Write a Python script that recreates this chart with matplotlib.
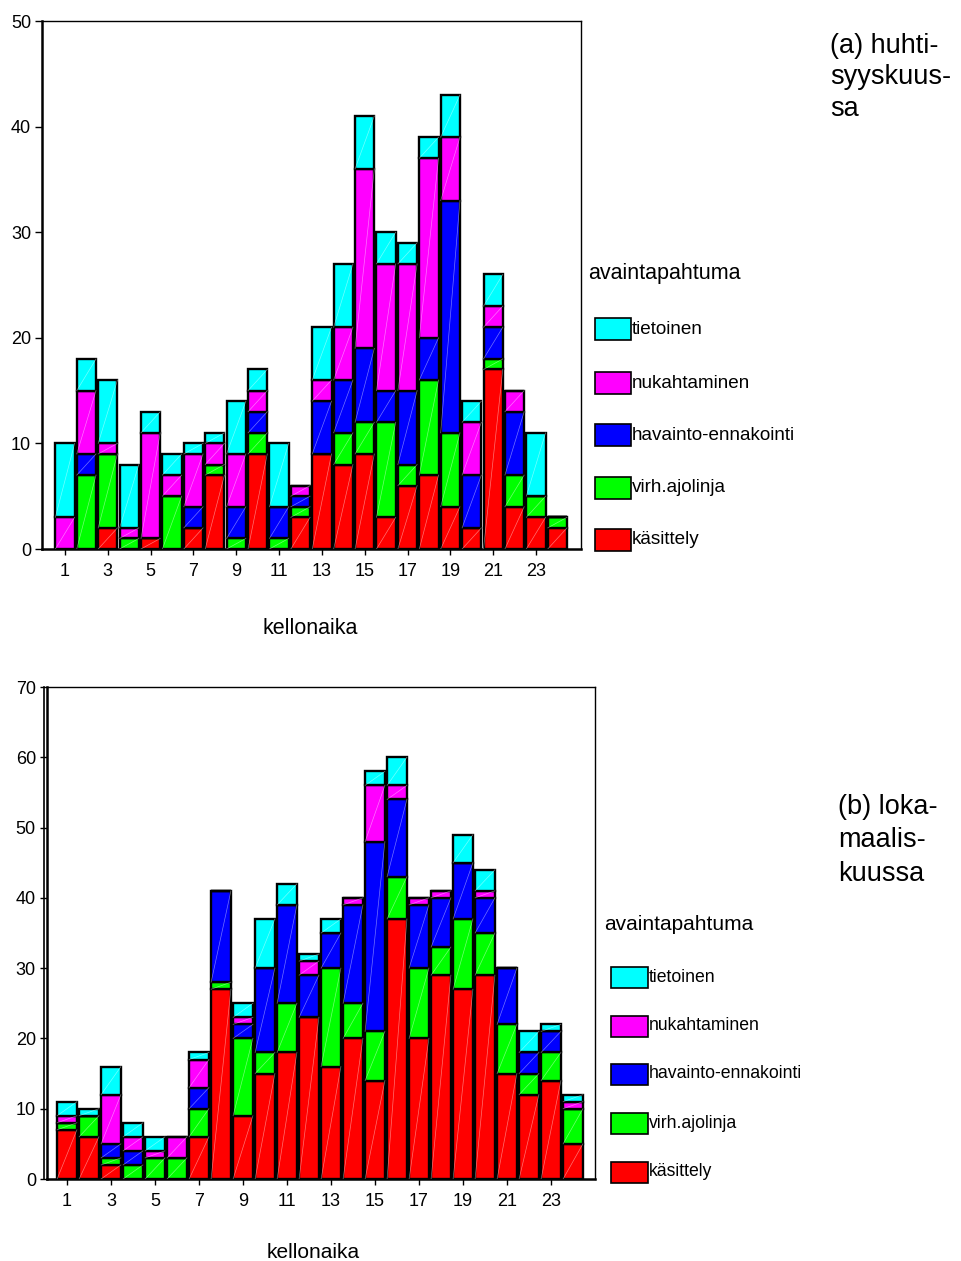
import numpy as np
import matplotlib
matplotlib.use("Agg")
import matplotlib.pyplot as plt
from matplotlib.patches import Rectangle
from matplotlib.lines import Line2D

plt.rcParams['font.family'] = ['Liberation Sans', 'DejaVu Sans']

hours = np.arange(1, 25)
series_names = ['käsittely', 'virh.ajolinja', 'havainto-ennakointi', 'nukahtaminen', 'tietoinen']
colors = ['#ff0000', '#00ff00', '#0000ff', '#ff00ff', '#00ffff']

# (a) huhti-syyskuussa
kasittely_a = [0, 0, 2, 0, 1, 0, 2, 7, 0, 9, 0, 3, 9, 8, 9, 3, 6, 7, 4, 2, 17, 4, 3, 2]
virh_a = [0, 7, 7, 1, 0, 5, 0, 1, 1, 2, 1, 1, 0, 3, 3, 9, 2, 9, 7, 0, 1, 3, 2, 1]
havainto_a = [0, 2, 0, 0, 0, 0, 2, 0, 3, 2, 3, 1, 5, 5, 7, 3, 7, 4, 22, 5, 3, 6, 0, 0]
nukahtaminen_a = [3, 6, 1, 1, 10, 2, 5, 2, 5, 2, 0, 1, 2, 5, 17, 12, 12, 17, 6, 5, 2, 2, 0, 0]
tietoinen_a = [7, 3, 6, 6, 2, 2, 1, 1, 5, 2, 6, 0, 5, 6, 5, 3, 2, 2, 4, 2, 3, 0, 6, 0]

# (b) loka-maaliskuussa
kasittely_b = [7, 6, 2, 0, 0, 0, 6, 27, 9, 15, 18, 23, 16, 20, 14, 37, 20, 29, 27, 29, 15, 12, 14, 5]
virh_b = [1, 3, 1, 2, 3, 3, 4, 1, 11, 3, 7, 0, 14, 5, 7, 6, 10, 4, 10, 6, 7, 3, 4, 5]
havainto_b = [0, 0, 2, 2, 0, 0, 3, 13, 2, 12, 14, 6, 5, 14, 27, 11, 9, 7, 8, 5, 8, 3, 3, 0]
nukahtaminen_b = [1, 0, 7, 2, 1, 3, 4, 0, 1, 0, 0, 2, 0, 1, 8, 2, 1, 1, 0, 1, 0, 0, 0, 1]
tietoinen_b = [2, 1, 4, 2, 2, 0, 1, 0, 2, 7, 3, 1, 2, 0, 2, 4, 0, 0, 4, 3, 0, 3, 1, 1]

W, H = 962, 1261
fig = plt.figure(figsize=(W / 100, H / 100), dpi=100)


def fx(px):
    return px / W


def fy(py):
    return 1 - py / H


def panel(rect, data, ymax, xlim):
    ax = fig.add_axes(rect)
    bottom = np.zeros(len(hours))
    width = 0.9
    for vals, col in zip(data, colors):
        vals = np.array(vals, dtype=float)
        ax.bar(hours, vals, width=width, bottom=bottom, color=col,
               edgecolor='black', linewidth=1.7, zorder=2)
        # faint diagonal streak seen in each segment
        for h, b, v in zip(hours, bottom, vals):
            if v > 0:
                ax.plot([h - width / 2, h + width / 2], [b, b + v], color='white',
                        lw=0.5, alpha=0.45, zorder=3)
        bottom += vals
    ax.set_xlim(*xlim)
    ax.set_ylim(0, ymax)
    ax.set_xticks(np.arange(1, 25, 2))
    ax.set_yticks(np.arange(0, ymax + 1, 10))
    ax.tick_params(axis='x', direction='out', length=4, width=1, labelsize=13, pad=6)
    ax.tick_params(axis='y', direction='out', length=5, width=1, labelsize=13, pad=3)
    ax.spines['left'].set_linewidth(1.8)
    ax.spines['bottom'].set_linewidth(1.8)
    ax.spines['top'].set_linewidth(1.0)
    ax.spines['right'].set_linewidth(1.0)
    return ax


def legend(title_xy, patch_x, patch_w, patch_h, ys, fs_title, fs_lab):
    fig.text(fx(title_xy[0]), fy(title_xy[1]), 'avaintapahtuma', fontsize=fs_title,
             ha='left', va='center')
    # top entry is the last stacked series
    for name, col, y in zip(series_names[::-1], colors[::-1], ys):
        r = Rectangle((fx(patch_x), fy(y + patch_h / 2)), fx(patch_w), patch_h / H,
                      transform=fig.transFigure, facecolor=col, edgecolor='black', lw=1.2)
        fig.patches.append(r)
        fig.text(fx(patch_x + patch_w + 1), fy(y), name, fontsize=fs_lab, ha='left', va='center')


# top panel
axa = panel([fx(42.3), fy(549), fx(580.7 - 42.3), (549 - 21) / H],
            [kasittely_a, virh_a, havainto_a, nukahtaminen_a, tietoinen_a], 50, (-0.06, 25.09))
fig.text(fx(310), fy(628), 'kellonaika', fontsize=15.5, ha='center', va='center')
legend((588, 273), 595, 36, 22, [329, 383, 435, 488, 540], 15.5, 13.6)
fig.text(fx(830), fy(33), '(a) huhti-\nsyyskuus-\nsa', fontsize=19.5, ha='left', va='top',
         linespacing=1.27)

# bottom panel
axb = panel([fx(47), fy(1179), fx(595 - 47), (1179 - 687) / H],
            [kasittely_b, virh_b, havainto_b, nukahtaminen_b, tietoinen_b], 70, (0.09, 25.0))
fig.lines.append(Line2D([fx(44), fx(44)], [fy(1179), fy(687)], transform=fig.transFigure,
                        color='black', lw=1.2))
fig.text(fx(313), fy(1252), 'kellonaika', fontsize=15, ha='center', va='center')
legend((604, 924), 611, 37, 21, [977, 1026, 1074, 1123, 1172], 15, 12.7)
fig.text(fx(838), fy(794), '(b) loka-\nmaalis-\nkuussa', fontsize=19.5, ha='left', va='top',
         linespacing=1.37)

fig.savefig('out.png', dpi=100)
